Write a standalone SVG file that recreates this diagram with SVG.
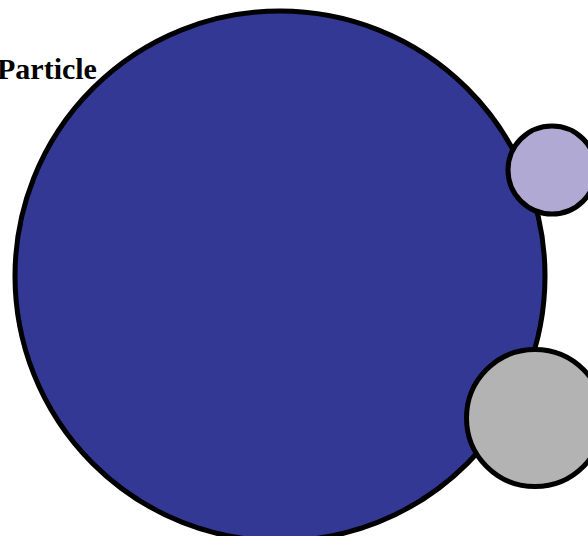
<svg xmlns="http://www.w3.org/2000/svg" width="588" height="536" viewBox="0 0 588 536">
<style>
.c{stroke:#000;stroke-width:5}
.t{font-family:"Liberation Serif","Times New Roman",serif;font-weight:bold;font-size:30px;fill:#000}
</style>
<rect width="588" height="536" fill="#fff"/>
<g id="connectors"/>
<g id="particle">
<circle class="c" cx="280" cy="276" r="265" fill="#333894"/>
<text class="t" x="-3" y="79">Particle</text>
</g>
<g id="small-particle">
<circle class="c" cx="552" cy="170" r="44" fill="#b0a9d4"/>
</g>
<g id="gray-particle">
<circle class="c" cx="535" cy="418" r="68.5" fill="#b3b3b3"/>
</g>
</svg>
